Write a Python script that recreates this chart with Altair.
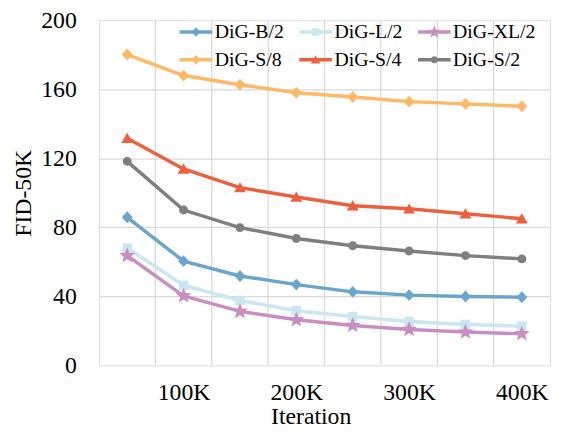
import math
import altair as alt
import pandas as pd

# ---- data ----
series = ["DiG-B/2", "DiG-L/2", "DiG-XL/2", "DiG-S/8", "DiG-S/4", "DiG-S/2"]
iterations = [50000, 100000, 150000, 200000, 250000, 300000, 350000, 400000]
fid_b2 = [85.8, 60.4, 51.8, 46.8, 42.6, 40.7, 39.9, 39.5]
fid_l2 = [68.0, 46.4, 37.6, 31.7, 28.3, 25.4, 23.7, 22.7]
fid_xl2 = [63.6, 40.3, 31.3, 26.4, 23.1, 20.8, 19.3, 18.3]
fid_s8 = [180.1, 167.9, 162.6, 158.0, 155.5, 152.8, 151.5, 150.1]
fid_s4 = [131.6, 113.8, 103.0, 97.6, 92.5, 90.7, 87.9, 85.0]
fid_s2 = [118.2, 90.0, 79.8, 73.5, 69.3, 66.3, 63.6, 61.7]
colors = ["#6BA5CE", "#C9E6F1", "#C98EC1", "#FFB865", "#EE5F3D", "#7F7F7F"]
x_ticks = [100000, 200000, 300000, 400000]
y_ticks = [0, 40, 80, 120, 160, 200]

values = [fid_b2, fid_l2, fid_xl2, fid_s8, fid_s4, fid_s2]
rows = []
for name, vals in zip(series, values):
    for it, v in zip(iterations, vals):
        rows.append({"series": name, "iteration": it, "fid": v})
df = pd.DataFrame(rows)

# category boundaries (Excel-style vertical gridlines)
bounds = [(a + b) / 2 for a, b in zip(iterations, iterations[1:])]
grid_df = pd.DataFrame({"b": bounds})

# ---- symbol paths (unit box: 1 unit = 12 px at size 576) ----
U = 12.0


def poly(pts, s=1.0):
    return "M" + "L".join(f"{x * s / U:.3f},{y * s / U:.3f}" for x, y in pts) + "Z"


def circle(r, s=1.0):
    r = r * s / U
    return f"M{-r:.3f},0A{r:.3f},{r:.3f} 0 1,1 {r:.3f},0A{r:.3f},{r:.3f} 0 1,1 {-r:.3f},0Z"


def star_pts(R, r):
    pts = []
    for k in range(10):
        ang = math.radians(-90 + 36 * k)
        rad = R if k % 2 == 0 else r
        pts.append((rad * math.cos(ang), rad * math.sin(ang)))
    return pts


def markers(s):
    return [
        poly([(0, -6), (5.5, 0), (0, 6), (-5.5, 0)], s),
        poly([(-4.8, -4.8), (4.8, -4.8), (4.8, 4.8), (-4.8, 4.8)], s),
        poly(star_pts(8.5, 3.6), s),
        poly([(0, -6), (5.5, 0), (0, 6), (-5.5, 0)], s),
        poly([(0, -5.5), (6, 4.8), (-6, 4.8)], s),
        circle(4.5, s),
    ]


marker_paths = markers(1.0)
line_path = poly([(-16.5, -1.75), (16.5, -1.75), (16.5, 1.75), (-16.5, 1.75)])
legend_paths = [line_path + " " + m for m in markers(0.8)]

FONT = "Liberation Serif, Times New Roman, serif"
color_scale = alt.Scale(domain=series, range=colors)
x_scale = alt.Scale(domain=[25000, 425000], nice=False, zero=False)
y_scale = alt.Scale(domain=[0, 200], nice=False)

x_axis = alt.Axis(
    values=x_ticks, labelExpr="datum.value / 1000 + 'K'", grid=False, ticks=False,
    tickSize=0, domain=False, title="Iteration", labelFont=FONT, titleFont=FONT,
    labelFontSize=24, titleFontSize=24, titleFontWeight="normal",
    labelColor="black", titleColor="black", labelPadding=16, titlePadding=0,
    titleX=214, labelFlush=False, labelOverlap=False,
)
y_axis = alt.Axis(
    values=y_ticks, grid=True, gridColor="#d9d9d9", gridWidth=1.3,
    gridOpacity=alt.condition("datum.value == 0 || datum.value == 200", alt.value(0), alt.value(1)),
    ticks=False, tickSize=0, domain=False, title="FID-50K", labelFont=FONT,
    titleFont=FONT, labelFontSize=24, titleFontSize=24, titleFontWeight="normal",
    labelColor="black", titleColor="black", labelPadding=23, titlePadding=5,
    labelFlush=False, labelOverlap=False,
)

X = alt.X("iteration:Q", scale=x_scale, axis=x_axis)
Y = alt.Y("fid:Q", scale=y_scale, axis=y_axis)

rules = alt.Chart(grid_df).mark_rule(color="#d9d9d9", strokeWidth=1.3).encode(
    x=alt.X("b:Q", scale=x_scale, axis=x_axis)
)

base = alt.Chart(df)
lines = base.mark_line(strokeWidth=3.5).encode(
    x=X, y=Y, color=alt.Color("series:N", scale=color_scale, legend=None)
)
points = base.mark_point(filled=True, size=576, opacity=1, strokeWidth=0).encode(
    x=X, y=Y,
    color=alt.Color("series:N", scale=color_scale, legend=None),
    shape=alt.Shape("series:N", scale=alt.Scale(domain=series, range=marker_paths), legend=None),
)

leg = alt.Legend(
    title=None, orient="none", legendX=86, legendY=0, columns=3, direction="horizontal",
    symbolSize=576, symbolStrokeWidth=0, symbolOpacity=1,
    labelFont=FONT, labelFontSize=20, labelColor="black", labelOffset=7,
    columnPadding=15, rowPadding=6, padding=0,
)
legend_layer = base.transform_filter("false").mark_point(
    filled=True, size=576, opacity=1, strokeWidth=0
).encode(
    x=X, y=Y,
    color=alt.Color("series:N", scale=color_scale, legend=leg),
    shape=alt.Shape("series:N", scale=alt.Scale(domain=series, range=legend_paths), legend=leg),
)

chart = (
    alt.layer(rules, lines, points, legend_layer)
    .resolve_scale(shape="independent", color="independent")
    .properties(
        width=456, height=349,
        autosize=alt.AutoSizeParams(type="none"),
        padding={"left": 92, "top": 10, "right": 3, "bottom": 61},
        background="white",
    )
    .configure_view(stroke="black", strokeWidth=1.5)
    .configure(font=FONT)
)

chart.save("out.html", embed_options={"renderer": "svg", "actions": False})
